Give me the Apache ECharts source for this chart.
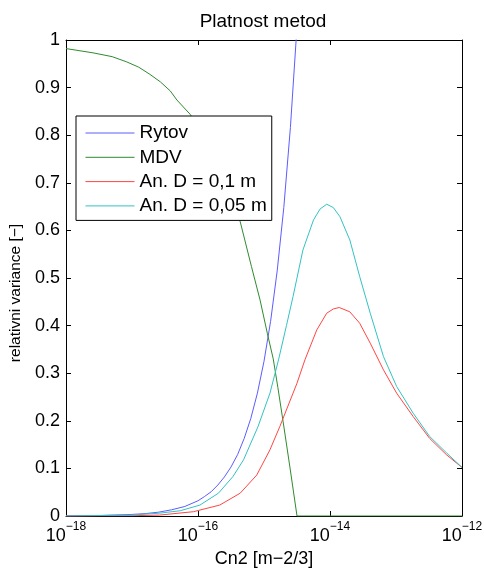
<!DOCTYPE html>
<html>
<head>
<meta charset="utf-8">
<script src="https://cdn.jsdelivr.net/npm/echarts@6/dist/echarts.min.js"></script>
<style>
html,body{margin:0;padding:0;background:#fff;}
#chart{width:484px;height:568px;}
</style>
</head>
<body>
<div id="chart"></div>
<script>
const seriesNames = ['Rytov', 'MDV', 'An. D = 0,1 m', 'An. D = 0,05 m'];

const rytovExp = [-18.0, -17.5, -17.0, -16.8, -16.6, -16.4, -16.2, -16.0, -15.9, -15.8, -15.7, -15.6, -15.5, -15.4, -15.3, -15.2, -15.1, -15.0, -14.9, -14.8, -14.7, -14.6, -14.5];
const rytovVal = [0.0003, 0.001, 0.0033, 0.005, 0.008, 0.013, 0.02, 0.032, 0.041, 0.051, 0.065, 0.082, 0.103, 0.129, 0.163, 0.205, 0.258, 0.325, 0.409, 0.515, 0.648, 0.816, 1.028];

const mdvExp = [-18.0, -17.59, -17.3, -17.08, -16.9, -16.73, -16.57, -16.42, -16.32, -16.12, -15.97, -15.82, -15.67, -15.52, -15.36, -15.19, -15.06, -14.95, -14.86, -14.79, -14.71, -14.61, -14.50, -14.0, -13.0, -12.0];
const mdvVal = [0.982, 0.973, 0.965, 0.954, 0.943, 0.928, 0.912, 0.893, 0.874, 0.844, 0.815, 0.78, 0.735, 0.68, 0.618, 0.524, 0.454, 0.384, 0.33, 0.27, 0.198, 0.105, 0.0, 0.0, 0.0, 0.0];

const an01Exp = [-18.0, -17.0, -16.58, -16.07, -15.67, -15.36, -15.11, -14.91, -14.76, -14.56, -14.50, -14.38, -14.20, -14.05, -13.95, -13.86, -13.70, -13.55, -13.39, -13.19, -12.99, -12.74, -12.49, -12.23, -12.0];
const an01Val = [0.0, 0.0005, 0.002, 0.009, 0.023, 0.048, 0.086, 0.139, 0.188, 0.258, 0.279, 0.328, 0.391, 0.426, 0.435, 0.438, 0.429, 0.405, 0.363, 0.307, 0.258, 0.209, 0.163, 0.128, 0.102];

const an005Exp = [-18.0, -17.0, -16.58, -16.27, -15.97, -15.69, -15.47, -15.31, -15.09, -14.91, -14.78, -14.66, -14.56, -14.41, -14.25, -14.15, -14.05, -13.95, -13.85, -13.70, -13.55, -13.39, -13.19, -12.99, -12.74, -12.49, -12.23, -12.0];
const an005Val = [0.0, 0.002, 0.006, 0.011, 0.023, 0.048, 0.083, 0.118, 0.188, 0.258, 0.328, 0.40, 0.461, 0.559, 0.622, 0.645, 0.655, 0.648, 0.629, 0.580, 0.503, 0.426, 0.335, 0.272, 0.216, 0.167, 0.132, 0.102];

const xMinExp = -18, xMaxExp = -12, xTickStepExp = 2;
const yTicks = [0, 0.1, 0.2, 0.3, 0.4, 0.5, 0.6, 0.7, 0.8, 0.9, 1];

const FONT = 'Liberation Sans, Arial, Helvetica, sans-serif';
function pts(ex, vals) { return ex.map((e, i) => [Math.pow(10, e), vals[i]]); }

const chart = echarts.init(document.getElementById('chart'), null, {renderer: 'canvas'});

const xCommon = {
  type: 'log', logBase: 10,
  min: Math.pow(10, xMinExp), max: Math.pow(10, xMaxExp),
  interval: xTickStepExp,
  axisLine: {show: true, onZero: false, lineStyle: {color: '#000', width: 1}},
  axisTick: {show: true, inside: true, length: 5, lineStyle: {color: '#000'}},
  minorTick: {show: false},
  splitLine: {show: false}
};
const yCommon = {
  type: 'value', min: yTicks[0], max: yTicks[yTicks.length - 1], interval: 0.1,
  axisLine: {show: true, onZero: false, lineStyle: {color: '#000', width: 1}},
  axisTick: {show: true, inside: true, length: 5, lineStyle: {color: '#000'}},
  splitLine: {show: false}
};

const colors = ['#5c5cff', '#2f8a2f', '#ff4545', '#33c2c2'];
const dataSets = [pts(rytovExp, rytovVal), pts(mdvExp, mdvVal), pts(an01Exp, an01Val), pts(an005Exp, an005Val)];

chart.setOption({
  animation: false,
  backgroundColor: '#fff',
  title: {
    text: 'Platnost metod', left: 258, top: 7, textAlign: 'center',
    textStyle: {fontFamily: FONT, fontSize: 19, fontWeight: 'normal', color: '#000'}
  },
  grid: {left: 66, right: 22, top: 40, bottom: 52, containLabel: false, outerBoundsMode: 'none'},
  xAxis: [
    Object.assign({}, xCommon, {
      position: 'bottom',
      name: 'Cn2 [m\u22122/3]', nameLocation: 'middle', nameGap: 27,
      nameTextStyle: {fontFamily: FONT, fontSize: 18, color: '#000'},
      axisLabel: {
        show: true, margin: 5,
        formatter: function (v) {
          const e = Math.round(Math.log10(v));
          return '{b|10}{s|' + (e < 0 ? '\u2212' + (-e) : e) + '}';
        },
        rich: {
          b: {fontFamily: FONT, fontSize: 18, color: '#000', lineHeight: 24, verticalAlign: 'bottom'},
          s: {fontFamily: FONT, fontSize: 12, color: '#000', lineHeight: 24, verticalAlign: 'top', padding: [0, 0, 10, 0]}
        }
      }
    }),
    Object.assign({}, xCommon, {position: 'top', axisLabel: {show: false}})
  ],
  yAxis: [
    Object.assign({}, yCommon, {
      position: 'left',
      name: 'relativni variance [\u2212]', nameLocation: 'middle', nameGap: 30, nameRotate: 90,
      nameTextStyle: {fontFamily: FONT, fontSize: 15.5, color: '#000', padding: [0, 30, 0, 0]},
      axisLabel: {show: true, margin: 6, fontFamily: FONT, fontSize: 18, color: '#000',
        formatter: function (v) { return String(Math.round(v * 10) / 10); }}
    }),
    Object.assign({}, yCommon, {position: 'right', axisLabel: {show: false}})
  ],
  legend: {
    show: true, orient: 'vertical', left: 76, top: 116,
    data: seriesNames,
    backgroundColor: '#fff', borderColor: '#000', borderWidth: 1,
    padding: [7.5, 5, 5, 9], itemWidth: 49, itemHeight: 14, itemGap: 5.3,
    itemStyle: {opacity: 0},
    lineStyle: {width: 1},
    textStyle: {fontFamily: FONT, fontSize: 19, color: '#000'},
    z: 10, selectedMode: false
  },
  series: seriesNames.map((n, i) => ({
    name: n, type: 'line', xAxisIndex: 0, yAxisIndex: 0,
    data: dataSets[i], symbol: 'none', showSymbol: false,
    smooth: false, clip: true,
    lineStyle: {color: colors[i], width: 1}, itemStyle: {color: colors[i]},
    emphasis: {disabled: true}
  }))
});
</script>
</body>
</html>
